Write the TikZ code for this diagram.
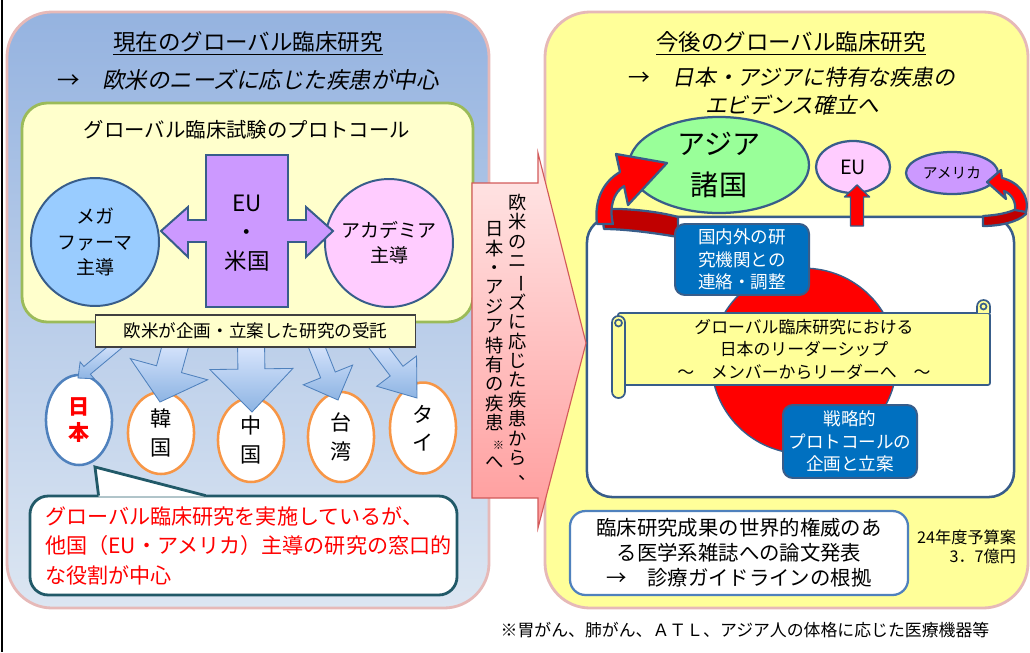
\documentclass[tikz,border=0pt]{standalone}
\usepackage{fontspec}
\setmainfont{Noto Sans CJK JP}
\newfontfamily\jpslant[FakeSlant=0.2]{Noto Sans CJK JP}
\usepackage{graphicx}
\usetikzlibrary{calc,shapes.geometric}

\definecolor{PanelTop}{RGB}{149,179,224}
\definecolor{PanelBot}{RGB}{220,230,242}
\definecolor{PanelLine}{RGB}{230,185,184}
\definecolor{ProtoFill}{RGB}{255,255,204}
\definecolor{ProtoLine}{RGB}{155,187,89}
\definecolor{Navy}{RGB}{56,93,138}
\definecolor{MegaBlue}{RGB}{153,204,255}
\definecolor{AcaPink}{RGB}{255,204,255}
\definecolor{Lilac}{RGB}{204,153,255}
\definecolor{OvalOrange}{RGB}{247,150,70}
\definecolor{OvalBlue}{RGB}{79,129,189}
\definecolor{Teal}{RGB}{33,89,104}
\definecolor{ArrTop}{RGB}{224,234,255}
\definecolor{ArrBot}{RGB}{141,180,227}
\definecolor{PinkTop}{RGB}{255,232,232}
\definecolor{PinkBot}{RGB}{255,155,155}
\definecolor{PinkLine}{RGB}{210,90,90}
\definecolor{FutureFill}{RGB}{255,255,153}
\definecolor{AsiaGreen}{RGB}{153,255,153}
\definecolor{BoxBlue}{RGB}{0,112,192}
\definecolor{DarkRed}{RGB}{192,0,0}

\newcommand\vbar{\rotatebox[origin=c]{-90}{ー}}
\newcommand\vcomma{\makebox[1em][l]{\hspace{0.5em}\raisebox{0.25em}{、}}}
\newcommand\vnote{\makebox[1em][r]{\fontsize{8}{8}\selectfont ※}}
% [style]{tail}{tip}{shaft half width}{head half width}{head length}
\newcommand\blockarrow[6][]{%
  \coordinate (ah) at ($(#3)!#6!(#2)$);
  \draw[#1] ($(#2)!#4!90:(#3)$) -- ($(ah)!#4!90:(#3)$) -- ($(ah)!#5!90:(#3)$)
    -- (#3) -- ($(ah)!#5!-90:(#3)$) -- ($(ah)!#4!-90:(#3)$)
    -- ($(#2)!#4!-90:(#3)$) -- cycle;
}

\begin{document}
\begin{tikzpicture}[x=0.025cm,y=-0.025cm,
    panel/.style={rounded corners=32pt,line width=2pt,draw=PanelLine},
    circ/.style={circle,draw=Navy,line width=1.4pt,minimum size=91pt,inner sep=0pt,align=center,font=\fontsize{13.5}{18}\selectfont},
    oval/.style={ellipse,draw=OvalOrange,line width=1.8pt,fill=white,inner sep=0pt,minimum width=47pt,align=center,font=\fontsize{15}{20}\selectfont},
    blockarr/.style={draw=OvalBlue,line width=0.6pt,top color=ArrTop,bottom color=ArrBot},
    bluebox/.style={draw=Navy,line width=1.4pt,fill=BoxBlue,rounded corners=7pt,text=white,align=center,inner sep=0pt,minimum width=95.3pt,font=\fontsize{12.5}{16}\selectfont},
    redarr/.style={draw=Navy,line width=1.6pt,fill=red,line join=round},
    vtext/.style={align=center,inner sep=0pt,font=\fontsize{13}{13.8}\selectfont},
    scroll/.style={draw=Navy,line width=1.2pt,fill=FutureFill},
    ell/.style={ellipse,draw=Navy,line width=1.6pt,inner sep=0pt,align=center}]
  \useasboundingbox (0,0) rectangle (1030,652);
  \draw[line width=1.4pt] (2,0) -- (2,652);

  % now
  \path[panel,top color=PanelTop,bottom color=PanelBot] (7,12) rectangle (489,608);
  \node[font=\fontsize{16}{19}\selectfont] (nowttl) at (248,43) {\underline{現在のグローバル臨床研究}};
  \node[font=\fontsize{16}{19}\selectfont] (nowsub) at (248,80) {→\quad{\jpslant 欧米のニーズに応じた疾患が中心}};
  \draw[rounded corners=18pt,line width=2pt,draw=ProtoLine,fill=ProtoFill] (22,103) rectangle (473,322);
  \node[font=\fontsize{14.5}{17}\selectfont] (prottl) at (247,130) {グローバル臨床試験のプロトコール};
  \node[circ,fill=MegaBlue] (mega) at (95,242) {メガ\\ファーマ\\主導};
  \node[circ,fill=AcaPink] (aca) at (389,243) {アカデミア\\主導};
  \draw[draw=Navy,line width=1.4pt,fill=Lilac] (206,155) -- (288,155) -- (288,220) -- (306,220) -- (306,207)
    -- (333,231) -- (306,257) -- (306,242) -- (288,242) -- (288,307) -- (206,307) -- (206,242)
    -- (188,242) -- (188,257) -- (161,231) -- (188,207) -- (188,220) -- (206,220) -- cycle;
  \node[align=center,font=\fontsize{16}{20.6}\selectfont] (euus) at (247,233) {EU\\・\\米国};

  \node[oval,draw=OvalBlue,minimum height=64pt,text=red,font=\bfseries\fontsize{15}{18}\selectfont] (jp) at (79,420) {日\\本};
  \node[oval,minimum height=58.3pt] (kr) at (161,433) {韓\\国};
  \node[oval,minimum height=59.7pt] (cn) at (251,440) {中\\国};
  \node[oval,minimum height=64pt] (tw) at (341,437) {台\\湾};
  \node[oval,minimum height=64.7pt] (th) at (423,428) {タ\\イ};

  \coordinate (a1) at (121,342); \coordinate (jp-in) at (78,378);
  \coordinate (a2) at (177,340); \coordinate (kr-in) at (160,402);
  \coordinate (a3) at (251,340); \coordinate (cn-in) at (252,412);
  \coordinate (a4) at (314,340); \coordinate (tw-in) at (338,400);
  \coordinate (a5) at (373,340); \coordinate (th-in) at (417,398);
  \blockarrow[blockarr]{a1}{jp-in}{3.6pt}{7.8pt}{8.5pt}
  \blockarrow[blockarr]{a2}{kr-in}{9.2pt}{28.5pt}{24.2pt}
  \blockarrow[blockarr]{a3}{cn-in}{9.6pt}{29.5pt}{30.6pt}
  \blockarrow[blockarr]{a4}{tw-in}{5.6pt}{18.9pt}{19.2pt}
  \blockarrow[blockarr]{a5}{th-in}{5.7pt}{17.8pt}{24pt}
  \node[draw=black!75,fill=ProtoFill,line width=0.8pt,minimum width=227pt,minimum height=22.8pt,font=\fontsize{12.5}{15}\selectfont] (rb) at (255.5,331) {欧米が企画・立案した研究の受託};

  \node[draw=Teal,line width=2pt,fill=white,rounded corners=13pt,minimum width=303.7pt,minimum height=70.4pt,
    text width=282pt,align=left,text=red,font=\fontsize{15}{21}\selectfont] (cb) at (243.5,545.5)
    {グローバル臨床研究を実施しているが、\\他国（EU・アメリカ）主導の研究の窓口的\\な役割が中心};
  \coordinate (cbtip) at (95,467);
  \fill[white] ($(cb.north west)+(70,2)$) -- (cbtip) -- ($(cb.north west)+(177,2)$) -- cycle;
  \draw[draw=Teal,line width=2pt] ($(cb.north west)+(70,1)$) -- (cbtip) -- ($(cb.north west)+(177,1)$);

  % future
  \path[panel,fill=FutureFill] (545,12) rectangle (1028,608);
  \node[font=\fontsize{16}{19}\selectfont] (futttl) at (791,43) {\underline{今後のグローバル臨床研究}};
  \node[align=center,font=\fontsize{15.5}{20}\selectfont] (futsub) at (792,91) {→\quad{\jpslant 日本・アジアに特有な疾患の}\\{\jpslant エビデンス確立へ}};

  \node[draw=Navy,line width=1.8pt,fill=white,rounded corners=18pt,minimum width=303.7pt,minimum height=199.2pt] (wb) at (800.5,357) {};
  \node[circle,draw=Navy,line width=1pt,fill=red,minimum size=132pt] (sun) at (804,361) {};
  \node[scroll,rounded corners=1.5pt,minimum width=264.6pt,minimum height=51.2pt,align=center,font=\fontsize{12}{16}\selectfont] (lead) at (804,349)
    {グローバル臨床研究における\\日本のリーダーシップ\\～\quad メンバーからリーダーへ\quad ～};
  \draw[scroll,rounded corners=4.5pt] (612,316) rectangle (625,398);
  \draw[scroll] (618.5,323) circle[radius=3.5];
  \draw[scroll] (977,313) -- (977,306.5) arc[start angle=180,end angle=360,radius=6.5] -- (990,313);
  \draw[scroll] (983.5,306.5) circle[radius=3];

  \node[ell,fill=AsiaGreen,minimum width=128pt,minimum height=68.3pt,font=\fontsize{20}{29}\selectfont] (asia) at (719,165) {アジア\\諸国};
  \node[ell,fill=AcaPink,minimum width=52.6pt,minimum height=37pt,font=\fontsize{14}{16}\selectfont] (eu) at (853,167) {EU};
  \node[ell,fill=Lilac,minimum width=65.4pt,minimum height=29.9pt,font=\fontsize{10.5}{12}\selectfont] (us) at (952,173) {アメリカ};

  \draw[redarr,fill=DarkRed] (601,209) .. controls (630,208) and (660,212) .. (678,217) -- (678,237)
    .. controls (655,233) and (625,229) .. (604,229) -- cycle;
  \draw[redarr] (597,224) .. controls (594,200) and (603,182) .. (620,172) -- (616,154) -- (667,163) -- (628,205)
    -- (624,186) .. controls (613,193) and (609,208) .. (613,224) -- cycle;
  \draw[redarr,fill=DarkRed] (983,216) .. controls (1000,215) and (1015,212) .. (1024,204) -- (1026,214)
    .. controls (1018,222) and (1000,226) .. (983,226) -- cycle;
  \draw[redarr] (1026,212) .. controls (1030,195) and (1018,182) .. (1002,178) -- (1001,170) -- (987,182)
    -- (1006,199) -- (1004,191) .. controls (1012,194) and (1016,202) .. (1015,210) -- cycle;
  \coordinate (eu-out) at (857,226); \coordinate (eu-in) at (857,185);
  \blockarrow[redarr,line width=1pt]{eu-out}{eu-in}{4.6pt}{8.9pt}{8.5pt}

  \node[bluebox,minimum height=50.5pt] (liaison) at (742,259.5) {国内外の研\\究機関との\\連絡・調整};
  \node[bluebox,minimum height=51.9pt] (strat) at (850,441.5) {戦略的\\プロトコールの\\企画と立案};

  \node[draw=OvalBlue,line width=1.6pt,fill=white,rounded corners=11pt,minimum width=240.4pt,minimum height=59.7pt,
    align=center,font=\fontsize{14.5}{17.8}\selectfont] (pub) at (739,553)
    {臨床研究成果の世界的権威のあ\\る医学系雑誌への論文発表\\→\quad 診療ガイドラインの根拠};
  \node[anchor=east,align=right,font=\fontsize{11.5}{13.5}\selectfont] (budget) at (1021,547) {24年度予算案\\3．7億円};

  % middle arrow
  \path[draw=PinkLine,line width=0.8pt,top color=PinkTop,bottom color=PinkBot] (472,183) -- (538,183) -- (538,153)
    -- (586,343) -- (538,528) -- (538,498) -- (472,498) -- cycle;
  \node[vtext] (vcol1) at (518,339) {欧\\米\\の\\ニ\\\vbar\\ズ\\に\\応\\じ\\た\\疾\\患\\か\\ら\\\vcomma};
  \node[vtext] (vcol2) at (495,345) {日\\本\\・\\ア\\ジ\\ア\\特\\有\\の\\疾\\患\\\vnote\\へ};

  \node[font=\fontsize{12}{14}\selectfont] (note) at (745,630) {※胃がん、肺がん、ＡＴＬ、アジア人の体格に応じた医療機器等};
\end{tikzpicture}
\end{document}
